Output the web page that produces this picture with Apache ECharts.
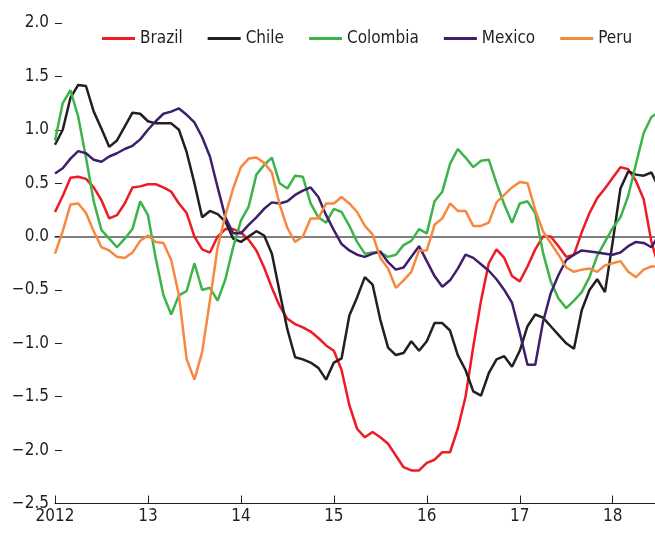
<!DOCTYPE html>
<html>
<head>
<meta charset="utf-8">
<script src="https://cdn.jsdelivr.net/npm/echarts@6/dist/echarts.min.js"></script>
<style>
  html, body { margin: 0; padding: 0; background: #fff; }
  #chart { width: 655px; height: 536px; }
</style>
</head>
<body>
<div id="chart"></div>
<script>
// monthly readings, Jan 2012 onwards
var startYear = 2012;
var yearTicks = [2012, 2013, 2014, 2015, 2016, 2017, 2018];

var brazil = [0.23, 0.38, 0.55, 0.56, 0.54, 0.46, 0.34, 0.17, 0.20, 0.31, 0.46, 0.47,
  0.49, 0.49, 0.46, 0.42, 0.31, 0.22, 0.0, -0.12, -0.15, 0.0, 0.07, 0.07,
  0.04, -0.03, -0.13, -0.29, -0.48, -0.65, -0.77, -0.82, -0.85, -0.89, -0.95, -1.02,
  -1.07, -1.25, -1.58, -1.80, -1.88, -1.83, -1.88, -1.94, -2.05, -2.16, -2.19, -2.19,
  -2.12, -2.09, -2.02, -2.02, -1.80, -1.50, -1.03, -0.60, -0.25, -0.12, -0.20, -0.37,
  -0.42, -0.28, -0.12, 0.0, 0.0, -0.09, -0.19, -0.17, 0.04, 0.22, 0.36, 0.45,
  0.55, 0.65, 0.63, 0.52, 0.35, -0.05, -0.30];

var chile = [0.86, 1.0, 1.3, 1.42, 1.41, 1.17, 1.01, 0.84, 0.90, 1.03, 1.16, 1.15,
  1.08, 1.06, 1.06, 1.06, 1.0, 0.79, 0.5, 0.18, 0.24, 0.21, 0.14, -0.02,
  -0.05, 0.0, 0.05, 0.01, -0.16, -0.52, -0.87, -1.13, -1.15, -1.18, -1.23, -1.34,
  -1.18, -1.14, -0.74, -0.57, -0.38, -0.45, -0.78, -1.04, -1.11, -1.09, -0.98, -1.07,
  -0.98, -0.81, -0.81, -0.88, -1.11, -1.25, -1.45, -1.49, -1.28, -1.15, -1.12, -1.22,
  -1.07, -0.84, -0.73, -0.76, -0.84, -0.92, -1.0, -1.05, -0.69, -0.50, -0.40, -0.52,
  -0.05, 0.45, 0.61, 0.58, 0.57, 0.60, 0.45];

var colombia = [0.9, 1.25, 1.37, 1.12, 0.74, 0.33, 0.06, -0.02, -0.1, -0.02, 0.07, 0.33,
  0.2, -0.2, -0.55, -0.73, -0.55, -0.51, -0.25, -0.50, -0.48, -0.6, -0.4, -0.1,
  0.15, 0.28, 0.58, 0.67, 0.74, 0.5, 0.45, 0.57, 0.56, 0.31, 0.18, 0.13,
  0.26, 0.23, 0.1, -0.05, -0.16, -0.15, -0.15, -0.19, -0.17, -0.08, -0.04, 0.07,
  0.03, 0.33, 0.42, 0.68, 0.82, 0.74, 0.65, 0.71, 0.72, 0.5, 0.3, 0.13,
  0.31, 0.33, 0.22, -0.15, -0.42, -0.58, -0.67, -0.6, -0.52, -0.38, -0.18, -0.05,
  0.08, 0.18, 0.38, 0.68, 0.97, 1.12, 1.17];

var mexico = [0.59, 0.64, 0.73, 0.80, 0.78, 0.72, 0.70, 0.75, 0.78, 0.82, 0.85, 0.91,
  1.0, 1.08, 1.15, 1.17, 1.20, 1.14, 1.07, 0.93, 0.75, 0.46, 0.18, 0.03,
  0.03, 0.11, 0.18, 0.26, 0.32, 0.31, 0.33, 0.39, 0.43, 0.46, 0.37, 0.2,
  0.06, -0.07, -0.13, -0.17, -0.19, -0.16, -0.14, -0.24, -0.31, -0.29, -0.19, -0.09,
  -0.23, -0.37, -0.47, -0.41, -0.3, -0.17, -0.2, -0.26, -0.32, -0.4, -0.5, -0.62,
  -0.9, -1.2, -1.2, -0.8, -0.53, -0.36, -0.22, -0.17, -0.13, -0.14, -0.15, -0.16,
  -0.17, -0.15, -0.09, -0.05, -0.06, -0.1, 0.02];

var peru = [-0.16, 0.05, 0.3, 0.31, 0.22, 0.05, -0.1, -0.13, -0.19, -0.2, -0.15, -0.04,
  0.01, -0.05, -0.06, -0.22, -0.55, -1.15, -1.34, -1.08, -0.6, -0.1, 0.2, 0.45,
  0.65, 0.73, 0.74, 0.69, 0.6, 0.3, 0.08, -0.05, 0.0, 0.17, 0.17, 0.31,
  0.31, 0.37, 0.31, 0.23, 0.1, 0.02, -0.2, -0.3, -0.48, -0.41, -0.33, -0.13,
  -0.13, 0.11, 0.17, 0.31, 0.24, 0.24, 0.10, 0.10, 0.13, 0.32, 0.39, 0.46,
  0.51, 0.5, 0.25, 0.05, -0.06, -0.17, -0.29, -0.33, -0.31, -0.3, -0.33, -0.27,
  -0.25, -0.23, -0.33, -0.38, -0.31, -0.28, -0.28];

var names = ['Brazil', 'Chile', 'Colombia', 'Mexico', 'Peru'];
var colors = ['#ed1c24', '#231f20', '#3cb44a', '#3f1f6b', '#f6883f'];
var values = [brazil, chile, colombia, mexico, peru];

var fontFam = "'DejaVu Sans Condensed', 'Liberation Sans Narrow', sans-serif";
var xMax = 2018.455;

function toPairs(arr) {
    return arr.map(function (v, i) { return [startYear + i / 12, v]; });
}

var dom = document.getElementById('chart');
var myChart = echarts.init(dom, null, { renderer: 'canvas' });

var option = {
    animation: false,
    color: colors,
    grid: { left: 55, right: 0, top: 23, bottom: 32.5, containLabel: false },
    legend: {
        left: 97,
        top: 25,
        icon: 'rect',
        itemWidth: 33,
        itemHeight: 3,
        itemGap: 25,
        textStyle: { fontFamily: fontFam, fontSize: 17, color: '#231f20' },
        data: names
    },
    xAxis: [
        {
            type: 'value',
            min: startYear,
            max: xMax,
            interval: 1,
            splitLine: { show: false },
            axisLine: { onZero: false, lineStyle: { color: '#231f20', width: 1.2 } },
            axisTick: { inside: true, length: 8, lineStyle: { color: '#231f20', width: 1 } },
            axisLabel: {
                showMaxLabel: false,
                margin: 5,
                fontFamily: fontFam,
                fontSize: 17,
                color: '#231f20',
                formatter: function (v) {
                    if (yearTicks.indexOf(v) < 0) return '';
                    return v === startYear ? String(v) : String(v).slice(2);
                }
            }
        },
        {
            // zero line
            type: 'value',
            position: 'top',
            min: startYear,
            max: xMax,
            axisLine: { show: true, onZero: true, lineStyle: { color: '#555', width: 1.5 } },
            axisTick: { show: false },
            axisLabel: { show: false },
            splitLine: { show: false }
        }
    ],
    yAxis: {
        type: 'value',
        min: -2.5,
        max: 2.0,
        interval: 0.5,
        splitLine: { show: false },
        axisLine: { show: false },
        axisTick: { show: true, inside: true, length: 7, lineStyle: { color: '#231f20', width: 1 } },
        axisLabel: {
            margin: 6,
            fontFamily: fontFam,
            fontSize: 17,
            color: '#231f20',
            formatter: function (v) {
                var s = v.toFixed(1);
                return v < 0 ? '\u2212' + s.slice(1) : s;
            }
        }
    },
    series: names.map(function (n, k) {
        return {
            name: n,
            type: 'line',
            xAxisIndex: 0,
            data: toPairs(values[k]),
            showSymbol: false,
            symbol: 'none',
            lineStyle: { width: 2.5, color: colors[k] },
            itemStyle: { color: colors[k] },
            clip: true
        };
    })
};

myChart.setOption(option);
window.addEventListener('resize', myChart.resize);
</script>
</body>
</html>
